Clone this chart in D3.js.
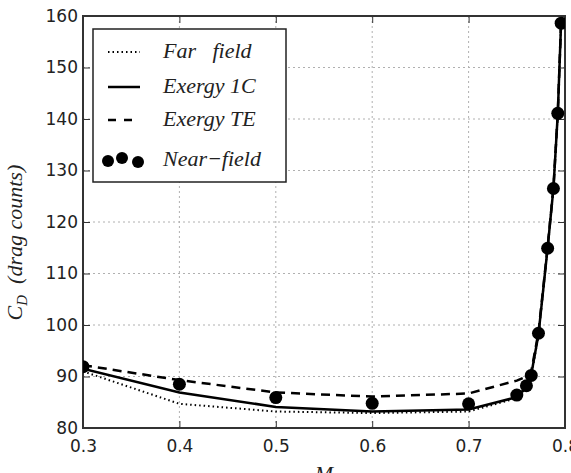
<!DOCTYPE html>
<html>
<head>
<meta charset="utf-8">
<script src="https://cdn.jsdelivr.net/npm/d3@7"></script>
<style>
  body { margin: 0; background: #fff; }
  svg { display: block; }
</style>
</head>
<body>
<div id="chart"></div>
<script>
// Mach numbers where the cases were run
const mach = [0.3, 0.4, 0.5, 0.6, 0.7, 0.75, 0.76, 0.765, 0.7725, 0.782, 0.788, 0.7925, 0.796];

// Drag coefficient (drag counts) per method
const farField   = [91.0, 84.7, 83.2, 82.9, 83.2, 85.8, 87.8, 90.0, 98.0, 115.0, 127.0, 141.0, 159.0];
const exergy1C   = [91.5, 86.9, 84.1, 83.2, 83.6, 86.0, 88.0, 90.4, 98.2, 115.0, 126.5, 141.0, 159.0];
const exergyTE   = [92.2, 89.3, 86.9, 86.1, 86.7, 89.2, 90.0, 91.0, 98.6, 115.2, 126.6, 141.1, 159.0];
const nearField  = [91.9, 88.5, 85.9, 84.8, 84.7, 86.4, 88.2, 90.2, 98.4, 114.9, 126.5, 141.1, 158.6];

const xTicks = [0.3, 0.4, 0.5, 0.6, 0.7, 0.8];
const yTicks = [80, 90, 100, 110, 120, 130, 140, 150, 160];

const legendLabels = ['Far \u2002field', 'Exergy 1C', 'Exergy TE', 'Near\u2212field'];

function drawChart() {
  const width = 571;
  const height = 473;
  const margin = { top: 16, right: 6, bottom: 45, left: 83 };
  const plotW = width - margin.left - margin.right;
  const plotH = height - margin.top - margin.bottom;

  const x = d3.scaleLinear().domain([0.3, 0.8]).range([0, plotW]);
  const y = d3.scaleLinear().domain([80, 160]).range([plotH, 0]);

  const svg = d3.select('#chart').append('svg')
    .attr('width', width)
    .attr('height', height);

  svg.append('defs').append('clipPath').attr('id', 'clip')
    .append('rect').attr('width', plotW).attr('height', plotH);

  const g = svg.append('g')
    .attr('transform', `translate(${margin.left},${margin.top})`);

  // grid
  g.append('g').selectAll('line.vg')
    .data(xTicks.slice(1, -1))
    .join('line')
    .attr('x1', d => x(d)).attr('x2', d => x(d))
    .attr('y1', 0).attr('y2', plotH)
    .attr('stroke', '#b0b0b0').attr('stroke-width', 1)
    .attr('stroke-dasharray', '2,3');

  g.append('g').selectAll('line.hg')
    .data(yTicks.slice(1, -1))
    .join('line')
    .attr('x1', 0).attr('x2', plotW)
    .attr('y1', d => y(d)).attr('y2', d => y(d))
    .attr('stroke', '#b0b0b0').attr('stroke-width', 1)
    .attr('stroke-dasharray', '2,3');

  // axes with inward ticks on all sides
  const tickFont = g => g.selectAll('text')
    .style('font-family', '"DejaVu Sans", sans-serif')
    .style('font-size', '17px')
    .attr('fill', '#222');

  const bottom = g.append('g')
    .attr('transform', `translate(0,${plotH})`)
    .call(d3.axisBottom(x).tickValues(xTicks).tickFormat(d3.format('.1f')).tickSizeInner(-7).tickSizeOuter(0).tickPadding(12));
  bottom.call(tickFont);

  const left = g.append('g')
    .call(d3.axisLeft(y).tickValues(yTicks).tickSizeInner(-7).tickSizeOuter(0).tickPadding(5));
  left.call(tickFont);

  g.append('g')
    .call(d3.axisTop(x).tickValues(xTicks).tickFormat('').tickSizeInner(-7).tickSizeOuter(0));
  g.append('g')
    .attr('transform', `translate(${plotW},0)`)
    .call(d3.axisRight(y).tickValues(yTicks).tickFormat('').tickSizeInner(-7).tickSizeOuter(0));

  g.selectAll('.domain').remove();
  g.selectAll('.tick line').attr('stroke', '#333').attr('stroke-width', 1);

  // frame
  g.append('rect')
    .attr('width', plotW).attr('height', plotH)
    .attr('fill', 'none').attr('stroke', '#333').attr('stroke-width', 2);

  // data lines
  const series = [
    { values: farField, dash: '1.5,3', width: 2 },
    { values: exergy1C, dash: null, width: 2.5 },
    { values: exergyTE, dash: '9,6', width: 2.5 }
  ];

  const line = d3.line()
    .x(d => x(d[0]))
    .y(d => y(d[1]));

  const plot = g.append('g').attr('clip-path', 'url(#clip)');

  series.forEach(s => {
    plot.append('path')
      .datum(mach.map((m, i) => [m, s.values[i]]))
      .attr('d', line)
      .attr('fill', 'none')
      .attr('stroke', '#000')
      .attr('stroke-width', s.width)
      .attr('stroke-dasharray', s.dash);
  });

  plot.selectAll('circle.near')
    .data(mach.map((m, i) => [m, nearField[i]]))
    .join('circle')
    .attr('class', 'near')
    .attr('cx', d => x(d[0]))
    .attr('cy', d => y(d[1]))
    .attr('r', 6.5)
    .attr('fill', '#000');

  // legend
  const lg = g.append('g').attr('transform', 'translate(10,13)');
  lg.append('rect')
    .attr('width', 193).attr('height', 153)
    .attr('fill', '#fff').attr('stroke', '#222').attr('stroke-width', 1.5);

  const rowY = [23, 58, 91, 131];
  legendLabels.forEach((lab, i) => {
    const ry = rowY[i];
    if (i < 3) {
      const s = series[i];
      lg.append('line')
        .attr('x1', 15).attr('x2', 47)
        .attr('y1', ry).attr('y2', ry)
        .attr('stroke', '#000')
        .attr('stroke-width', s.width)
        .attr('stroke-dasharray', i === 2 ? '8,8' : s.dash);
    } else {
      [[15, 1], [29, -2], [45, 2]].forEach(p => {
        lg.append('circle')
          .attr('cx', p[0]).attr('cy', ry + p[1])
          .attr('r', 6).attr('fill', '#000');
      });
    }
    lg.append('text')
      .attr('x', 70).attr('y', ry + 6)
      .style('font-family', '"Liberation Serif", serif')
      .style('font-style', 'italic')
      .style('font-size', '22px')
      .attr('fill', '#222')
      .text(lab);
  });

  // axis titles
  const yl = svg.append('text')
    .attr('transform', `translate(22,${margin.top + y(116)}) rotate(-90)`)
    .attr('text-anchor', 'middle')
    .style('font-family', '"Liberation Serif", serif')
    .style('font-style', 'italic')
    .style('font-size', '22px')
    .attr('fill', '#222');
  yl.append('tspan').text('C');
  yl.append('tspan').attr('dy', 5).style('font-size', '15px').text('D');
  yl.append('tspan').attr('dy', -5).text('\u2002(drag counts)');

  svg.append('text')
    .attr('x', margin.left + plotW / 2)
    .attr('y', 481)
    .attr('text-anchor', 'middle')
    .style('font-family', '"Liberation Serif", serif')
    .style('font-style', 'italic')
    .style('font-size', '22px')
    .attr('fill', '#222')
    .text('M');
}

drawChart();
</script>
</body>
</html>
